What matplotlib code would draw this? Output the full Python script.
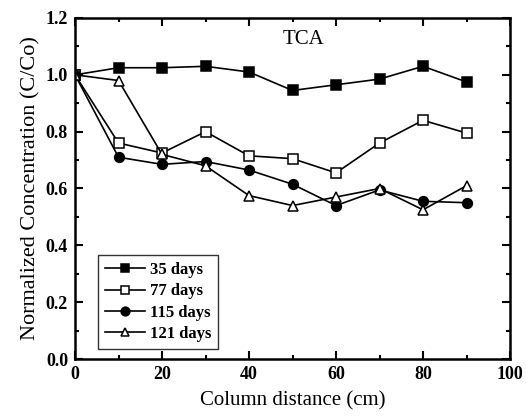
import matplotlib
matplotlib.use("Agg")
import matplotlib.pyplot as plt
from matplotlib.ticker import MultipleLocator

x = [0, 10, 20, 30, 40, 50, 60, 70, 80, 90]
d35 = [1.0, 1.025, 1.025, 1.03, 1.01, 0.945, 0.965, 0.985, 1.03, 0.975]
d77 = [1.0, 0.76, 0.725, 0.80, 0.715, 0.705, 0.655, 0.76, 0.84, 0.795]
d115 = [1.0, 0.71, 0.685, 0.695, 0.665, 0.615, 0.54, 0.595, 0.555, 0.55]
d121 = [1.0, 0.98, 0.72, 0.68, 0.575, 0.54, 0.57, 0.60, 0.525, 0.61]
labels = ["35 days", "77 days", "115 days", "121 days"]

plt.rcParams['font.family'] = ['Liberation Serif', 'DejaVu Serif']
plt.rcParams['font.weight'] = 'bold'

fig = plt.figure(figsize=(5.26, 4.17), dpi=100)
ax = fig.add_axes([75/526, 1-359/417, 435/526, 341/417])

kw = dict(color='black', lw=1.2, ms=7, mew=1.1)
ax.plot(x, d35, marker='s', mfc='black', label=labels[0], **kw)
ax.plot(x, d77, marker='s', mfc='white', label=labels[1], **kw)
ax.plot(x, d115, marker='o', mfc='black', label=labels[2], **kw)
ax.plot(x, d121, marker='^', mfc='white', label=labels[3], **kw)

ax.set_xlim(0, 100)
ax.set_ylim(0, 1.2)
ax.xaxis.set_major_locator(MultipleLocator(20))
ax.xaxis.set_minor_locator(MultipleLocator(10))
ax.yaxis.set_major_locator(MultipleLocator(0.2))
ax.yaxis.set_minor_locator(MultipleLocator(0.1))
ax.yaxis.set_major_formatter(matplotlib.ticker.FormatStrFormatter('%.1f'))
ax.tick_params(which='both', direction='in', top=True, right=True, labelsize=13, width=1.5)
ax.tick_params(which='major', length=6, pad=5)
ax.tick_params(which='minor', length=3)
for s in ax.spines.values():
    s.set_linewidth(1.8)

ax.set_xlabel("Column distance (cm)", fontsize=15, fontweight='normal', labelpad=6)
ax.set_ylabel("Normalized Concentration (C/Co)", fontsize=16, fontweight='normal', labelpad=4)
ax.text(47.8, 1.123, "TCA", fontsize=15, fontweight='normal', ha='left', va='center')

leg = ax.legend(loc='lower left', bbox_to_anchor=(0.053, 0.03), borderaxespad=0,
                fontsize=12, frameon=True, markerscale=0.9,
                fancybox=False, edgecolor='black', handlelength=2.4, borderpad=0.4,
                labelspacing=0.32, handletextpad=0.3)
leg.get_frame().set_linewidth(1.0)

fig.savefig("out.png", dpi=100)
